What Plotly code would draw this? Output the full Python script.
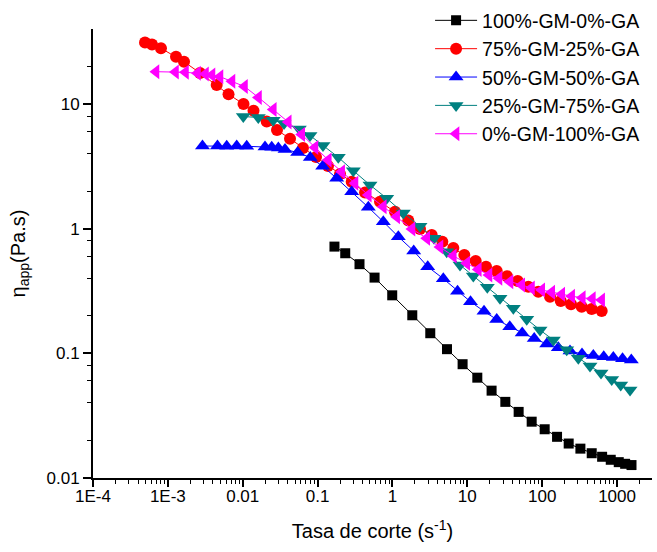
import plotly.graph_objects as go

# ---- data (shear rate s^-1, apparent viscosity Pa.s) ----
gm100_x = [0.168, 0.234, 0.363, 0.577, 0.993, 1.84, 3.20, 5.35, 8.65, 13.6, 21.1, 32.2,
           48.5, 72.4, 108, 158, 226, 324, 459, 632, 824, 1054, 1283, 1560]
gm100_y = [0.718, 0.635, 0.519, 0.405, 0.292, 0.202, 0.145, 0.108, 0.0818, 0.0638, 0.0502,
           0.0408, 0.0339, 0.0283, 0.0246, 0.0214, 0.0189, 0.0172, 0.0158, 0.0148, 0.0140,
           0.0134, 0.0130, 0.0127]

gm75_x = [4.95e-4, 6.14e-4, 8.09e-4, 1.285e-3, 1.643e-3, 2.687e-3, 4.49e-3, 6.46e-3, 0.01024,
          0.01393, 0.02091, 0.0287, 0.0428, 0.0638, 0.0953, 0.1377, 0.1993, 0.2856, 0.430,
          0.682, 1.082, 1.629, 2.333, 3.346, 4.634, 6.50, 9.12, 12.94, 17.78, 24.7, 33.9,
          47.1, 65.3, 88.8, 127.3, 177, 243, 337, 459, 624]
gm75_y = [31.1, 30.0, 28.0, 23.96, 21.84, 17.73, 14.21, 11.96, 10.0, 8.84, 7.24, 6.18, 5.27,
          4.44, 3.76, 3.18, 2.745, 2.381, 1.950, 1.645, 1.368, 1.163, 0.994, 0.890, 0.786,
          0.700, 0.615, 0.550, 0.4955, 0.4575, 0.415, 0.3804, 0.3423, 0.3122, 0.2846, 0.2630,
          0.2473, 0.2366, 0.2268, 0.2186]

gm50_x = [2.90e-3, 4.60e-3, 6.11e-3, 8.31e-3, 0.01130, 0.01985, 0.0244, 0.0299, 0.0367, 0.0542,
          0.0799, 0.117, 0.180, 0.2856, 0.476, 0.755, 1.198, 1.923, 2.958, 4.78, 7.40, 11.03,
          16.71, 24.7, 36.9, 54.1, 78.3, 115.0, 164.3, 235.4, 340.6, 482, 664, 892, 1184, 1551]
gm50_y = [4.604, 4.604, 4.578, 4.604, 4.578, 4.519, 4.494, 4.437, 4.315, 4.083, 3.723, 3.165,
          2.535, 1.979, 1.484, 1.137, 0.862, 0.662, 0.4955, 0.397, 0.315, 0.2596, 0.2174,
          0.1868, 0.1636, 0.1456, 0.1315, 0.1188, 0.1110, 0.1044, 0.0988, 0.0961, 0.0940,
          0.0926, 0.0906, 0.0884]

gm25_x = [0.01018, 0.01615, 0.0256, 0.0356, 0.0570, 0.0792, 0.1181, 0.1891, 0.300, 0.5013,
          0.838, 1.397, 2.334, 3.592, 5.305, 7.99, 12.03, 18.50, 27.34, 41.2, 62.2, 93.6,
          140.9, 212.7, 304, 435.6, 611, 849, 1120, 1491]
gm25_y = [7.94, 7.79, 7.40, 6.98, 6.30, 5.59, 4.65, 3.737, 2.917, 2.240, 1.752, 1.336, 1.045,
          0.837, 0.654, 0.511, 0.4173, 0.3386, 0.2763, 0.2298, 0.1875, 0.1539, 0.1279, 0.1069,
          0.0912, 0.0791, 0.0696, 0.0617, 0.0557, 0.0508]

gm0_x = [6.94e-4, 1.265e-3, 1.721e-3, 2.489e-3, 3.184e-3, 3.888e-3, 4.97e-3, 7.19e-3, 0.01056,
         0.01625, 0.0256, 0.0406, 0.0614, 0.0924, 0.139, 0.210, 0.316, 0.476, 0.755, 1.140,
         1.825, 2.869, 4.318, 6.50, 9.82, 14.03, 19.5, 26.5, 37.2, 53.3, 72.0, 98.6, 134.1,
         182.4, 248, 344, 468, 624]
gm0_y = [18.16, 18.06, 17.96, 17.63, 17.40, 17.08, 16.56, 15.21, 13.82, 11.27, 9.03, 7.17, 5.69,
         4.48, 3.555, 2.864, 2.312, 1.863, 1.501, 1.247, 0.994, 0.837, 0.713, 0.604, 0.528,
         0.4705, 0.425, 0.3998, 0.3755, 0.3534, 0.3343, 0.3221, 0.3088, 0.2976, 0.2868,
         0.2795, 0.2744, 0.2679]

series_names = ["100%-GM-0%-GA", "75%-GM-25%-GA", "50%-GM-50%-GA", "25%-GM-75%-GA", "0%-GM-100%-GA"]
x_tick_vals = [1e-4, 1e-3, 0.01, 0.1, 1, 10, 100, 1000]
x_tick_text = ["1E-4", "1E-3", "0.01", "0.1", "1", "10", "100", "1000"]
y_tick_vals = [0.01, 0.1, 1, 10]
y_tick_text = ["0.01", "0.1", "1", "10"]

series = [
    (gm100_x, gm100_y, "#000000", "square", 10),
    (gm75_x, gm75_y, "#FF0000", "circle", 12),
    (gm50_x, gm50_y, "#0000FF", "triangle-up", 13),
    (gm25_x, gm25_y, "#008080", "triangle-down", 13),
    (gm0_x, gm0_y, "#FF00FF", "triangle-left", 13),
]

fig = go.Figure()
for (xs, ys, col, sym, sz), name in zip(series, series_names):
    fig.add_trace(go.Scatter(
        x=xs, y=ys, name=name, mode="lines+markers",
        line=dict(color=col, width=1),
        marker=dict(symbol=sym, size=sz, color=col, line=dict(width=0)),
    ))

minor_x = [m * 10 ** e for e in range(-4, 4) for m in range(2, 10)]
minor_y = [m * 10 ** e for e in range(-2, 2) for m in (2, 4, 6, 8)]

font = "Liberation Sans, Arial, sans-serif"
fig.update_layout(
    width=657, height=552,
    margin=dict(l=93, r=5, t=29, b=74, autoexpand=False),
    paper_bgcolor="white", plot_bgcolor="white",
    font=dict(family=font, size=17, color="black"),
    legend=dict(x=0.603, y=1.062, xanchor="left", yanchor="top",
                font=dict(size=19.5, family=font), bgcolor="rgba(0,0,0,0)",
                itemwidth=42, tracegroupgap=0),
    showlegend=True,
)
fig.update_xaxes(
    type="log", range=[-4, 3.467],
    showline=True, linecolor="black", linewidth=2,
    ticks="outside", ticklen=7, tickwidth=1.5, tickcolor="black",
    tickvals=x_tick_vals, ticktext=x_tick_text,
    minor=dict(tickvals=minor_x, ticks="outside", ticklen=4, tickwidth=1, tickcolor="black", showgrid=False),
    showgrid=False, zeroline=False, mirror=False,
    tickfont=dict(size=17), ticklabelstandoff=-5,
    title=dict(text="Tasa de corte (s<sup>-1</sup>)", font=dict(size=20), standoff=19),
)
fig.update_yaxes(
    type="log", range=[-2, 1.6016],
    showline=True, linecolor="black", linewidth=2,
    ticks="outside", ticklen=8, tickwidth=1.5, tickcolor="black",
    tickvals=y_tick_vals, ticktext=y_tick_text,
    minor=dict(tickvals=minor_y, ticks="outside", ticklen=4, tickwidth=1, tickcolor="black", showgrid=False),
    showgrid=False, zeroline=False, mirror=False,
    tickfont=dict(size=17),
    title=dict(text="η<sub>app</sub>(Pa.s)", font=dict(size=20), standoff=16),
)

fig.write_html("out.html")
